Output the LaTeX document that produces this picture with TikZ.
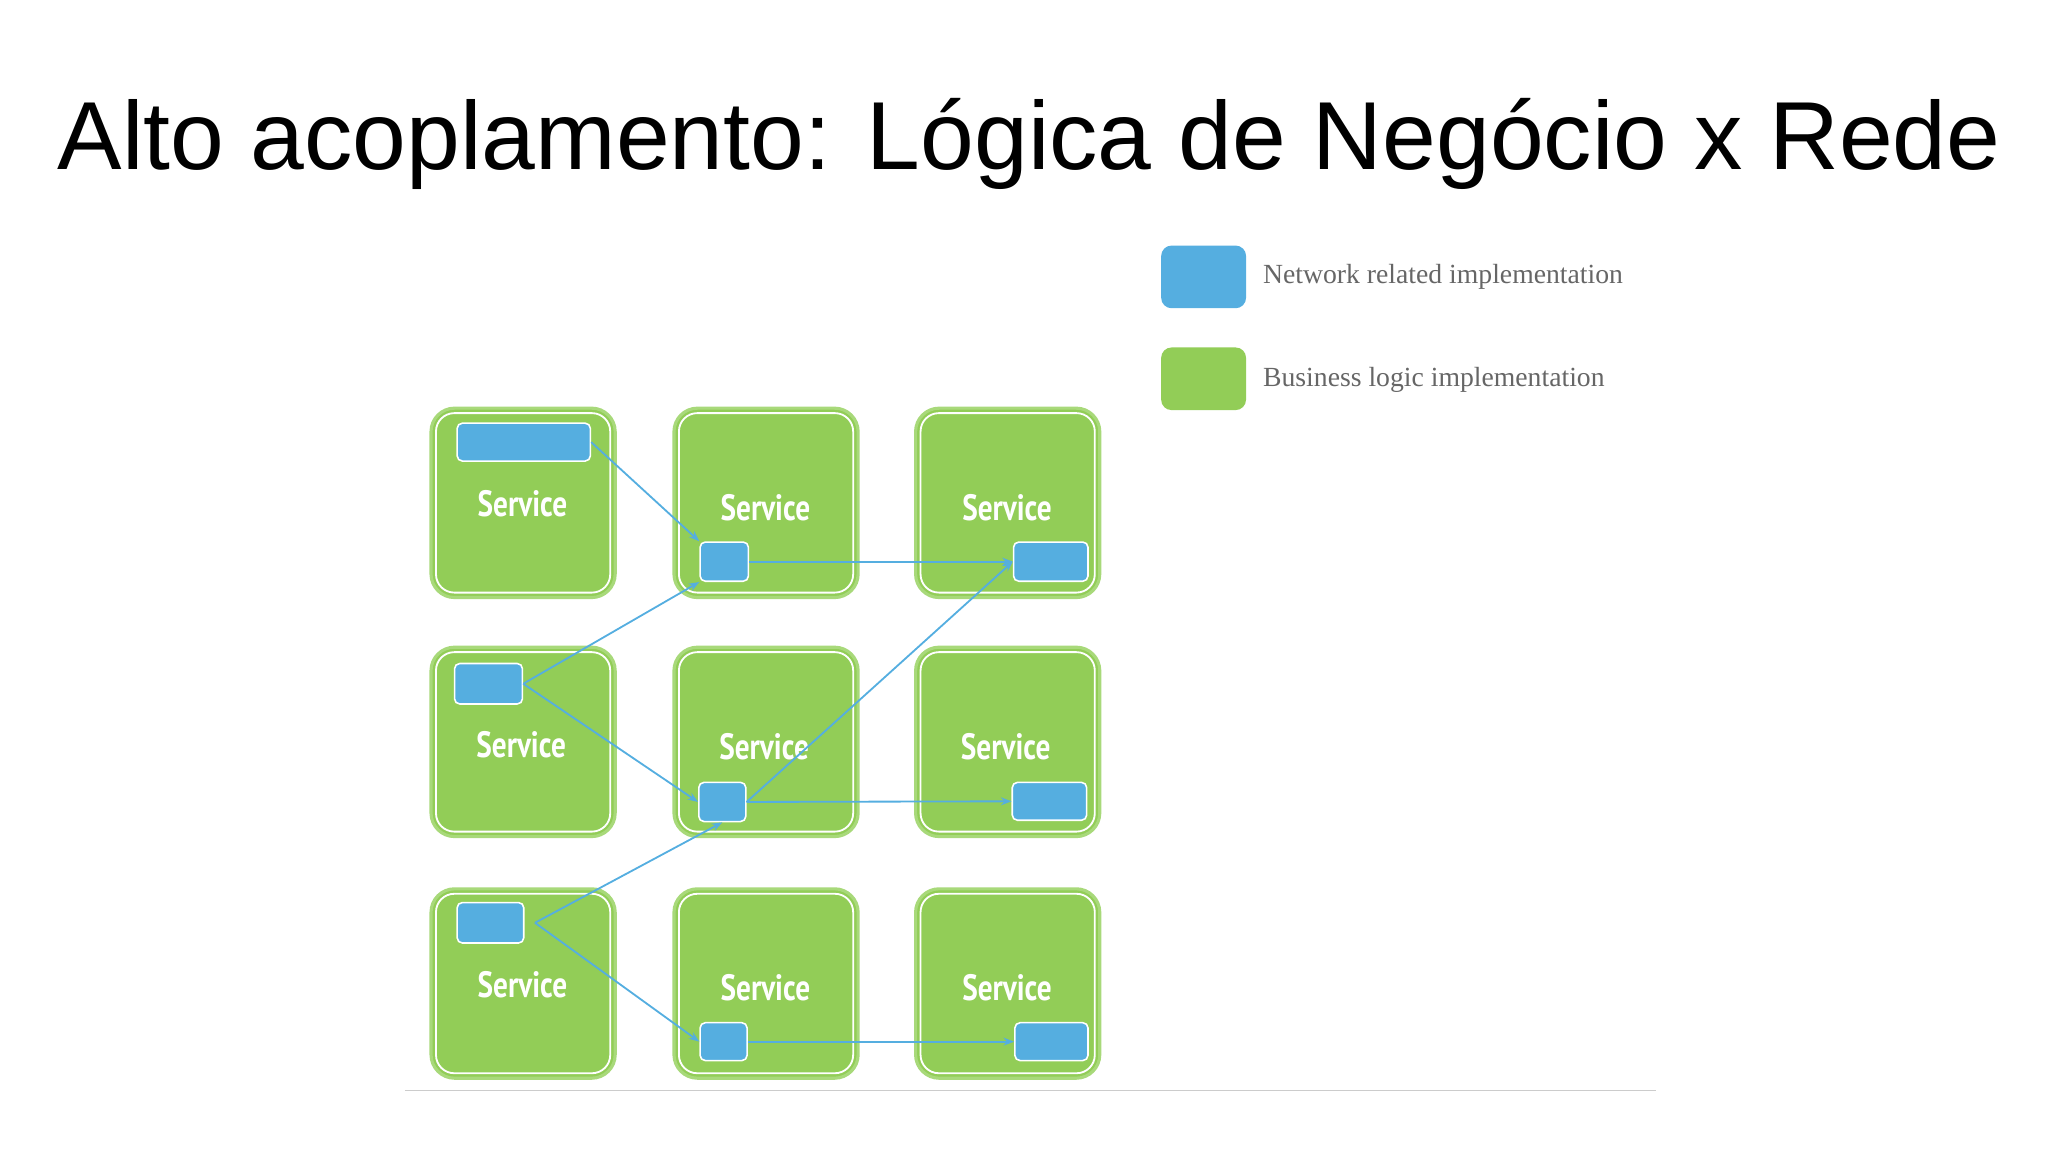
\documentclass[tikz,border=0pt]{standalone}
\usepackage{fontspec}
\setmainfont{Liberation Serif}
\newfontfamily\titlefont{Liberation Sans}
\newfontfamily\svcfont{PT Sans}
\usetikzlibrary{arrows.meta}
\definecolor{biz}{HTML}{92CD57}
\definecolor{net}{HTML}{55AEE0}
\definecolor{bord}{HTML}{A8D97A}
\tikzset{
 svc/.style={draw=bord,line width=1.2pt,fill=biz,rounded corners=9pt,minimum width=141*0.5pt,minimum height=145*0.5pt,inner sep=0pt},
 svcin/.style={draw=white,line width=0.7pt,rounded corners=7pt},
 netbox/.style={draw=white,line width=0.6pt,fill=net,rounded corners=2pt,inner sep=0pt},
 lbl/.style={text=white,font=\svcfont\bfseries\fontsize{14}{14}\selectfont,xscale=0.8},
 link/.style={net,line width=0.7pt,-{Stealth[length=4pt,width=3pt]}},
 legbox/.style={fill=#1,rounded corners=4pt,minimum width=32.5pt,minimum height=24pt,inner sep=0pt},
 legtxt/.style={anchor=west,text=black!60,font=\fontsize{10.6}{10.6}\selectfont}
}
\begin{document}
\begin{tikzpicture}[x=0.5pt,y=-0.5pt]
\useasboundingbox (0,0) rectangle (1568,882);
\node[font=\titlefont\fontsize{37}{37}\selectfont] (title) at (788,110) {Alto acoplamento: Lógica de Negócio x Rede};
\node[legbox=net] (ln) at (921.5,212) {};
\node[legtxt] (lnt) at (960,212) {Network related implementation};
\node[legbox=biz] (lb) at (921.5,290) {};
\node[legtxt] (lbt) at (960,291) {Business logic implementation};
% services
\foreach \c/\x in {1/400.5,2/586.5,3/771.5}{
 \foreach \r/\y in {1/385,2/568,3/753}{
  \node[svc] (s\r\c) at (\x,\y) {};
  \draw[svcin] ([xshift=2.5pt,yshift=-2.5pt]s\r\c.north west) rectangle ([xshift=-2.5pt,yshift=2.5pt]s\r\c.south east);
 }}
\node[lbl] at (400,386) {Service};
\node[lbl] at (586,389) {Service};
\node[lbl] at (771,389) {Service};
\node[lbl] at (399,570) {Service};
\node[lbl] at (585,572) {Service};
\node[lbl] at (770,572) {Service};
\node[lbl] at (400,754) {Service};
\node[lbl] at (586,756) {Service};
\node[lbl] at (771,756) {Service};
% network boxes
\newcommand{\nb}[5]{\node[netbox,minimum width={(#4-#2)*0.5pt},minimum height={(#5-#3)*0.5pt}] (#1) at ({(#2+#4)/2},{(#3+#5)/2}) {};}
\nb{n11}{350}{324}{452}{353}
\nb{n12}{536}{415}{573}{445}
\nb{n13}{776}{415}{833}{445}
\nb{n21}{348}{508}{400}{539}
\nb{n22}{535}{599}{571}{629}
\nb{n23}{775}{599}{832}{628}
\nb{n31}{350}{691}{401}{722}
\nb{n32}{536}{783}{572}{812}
\nb{n33}{777}{783}{833}{812}
% links
\draw[link] (n11.east) -- (n12.north west);
\draw[link] (n21.east) -- (n12.south west);
\draw[link] (n21.east) -- (n22.west);
\draw[link] ([xshift=4pt]n31.east) -- (n22.south);
\draw[link] ([xshift=4pt]n31.east) -- (n32.west);
\draw[link] (n12.east) -- (n13.west);
\draw[link] (n22.east) -- (n23.west);
\draw[link] (n22.east) -- (n13.west);
\draw[link] (n32.east) -- (n33.west);
\coordinate (b1) at (310,835); \coordinate (b2) at (1268,835);
\draw[black!20,line width=0.6pt] (b1) -- (b2);
\end{tikzpicture}
\end{document}
